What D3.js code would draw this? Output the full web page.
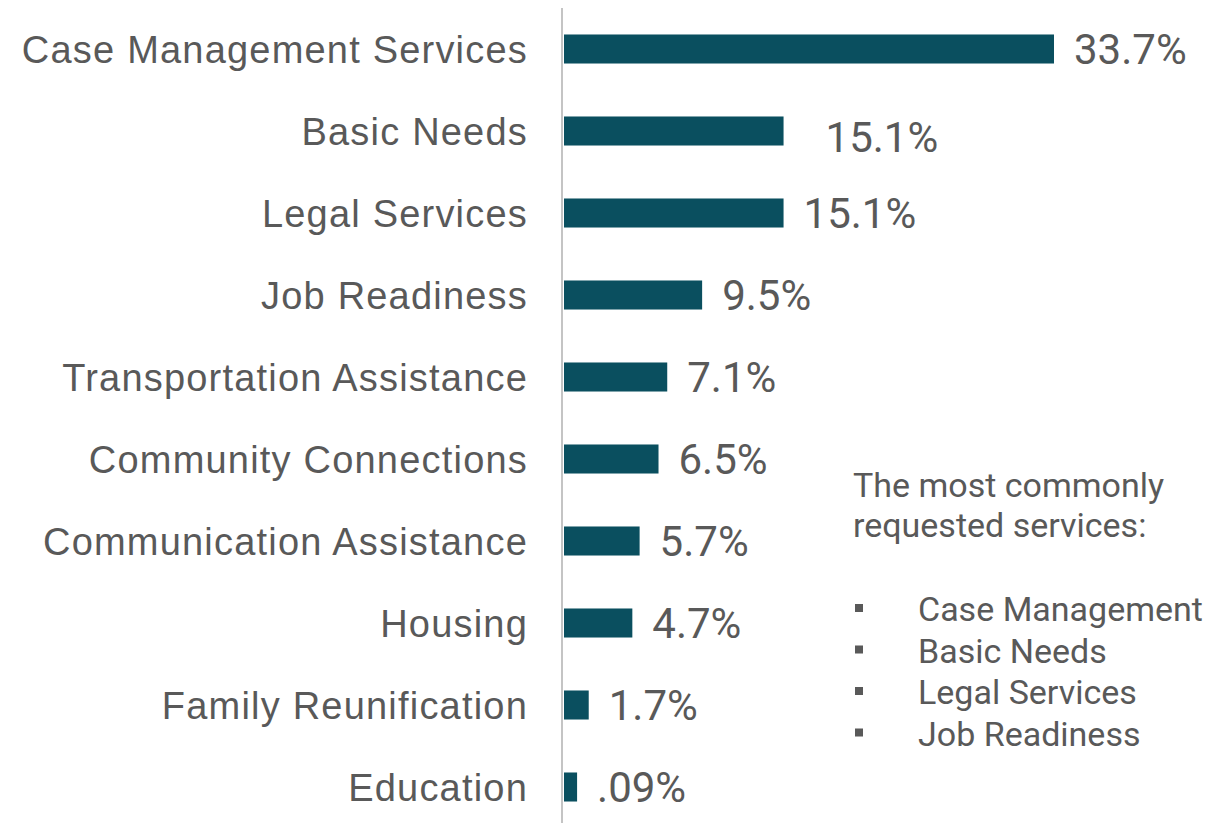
<!DOCTYPE html>
<html>
<head>
<meta charset="utf-8">
<script src="https://cdn.jsdelivr.net/npm/d3@7"></script>
<style>
  body { margin: 0; background: #fff; }
</style>
</head>
<body>
<div id="chart"></div>
<script>
const categories = ["Case Management Services", "Basic Needs", "Legal Services", "Job Readiness",
  "Transportation Assistance", "Community Connections", "Communication Assistance", "Housing",
  "Family Reunification", "Education"];
const values = [33.7, 15.1, 15.1, 9.5, 7.1, 6.5, 5.2, 4.7, 1.7, 0.9];
const valueLabels = ["33.7%", "15.1%", "15.1%", "9.5%", "7.1%", "6.5%", "5.7%", "4.7%", "1.7%", ".09%"];
const noteLines = ["The most commonly", "requested services:"];
const noteItems = ["Case Management", "Basic Needs", "Legal Services", "Job Readiness"];

const width = 1228, height = 823;
const axisX = 562;

const svg = d3.select("#chart").append("svg")
  .attr("width", width)
  .attr("height", height);

const x = d3.scaleLinear()
  .domain([0, 33.7])
  .range([axisX + 2, 1054]);

const y = d3.scaleBand()
  .domain(categories)
  .range([8, 828])
  .paddingInner(0.646)
  .paddingOuter(0.323);

// bars
svg.selectAll("rect.bar")
  .data(categories)
  .enter().append("rect")
  .attr("class", "bar")
  .attr("x", x(0))
  .attr("y", d => y(d))
  .attr("width", (d, i) => x(values[i]) - x(0))
  .attr("height", y.bandwidth())
  .attr("fill", "#0a4f5f");

// axis line
svg.append("line")
  .attr("x1", axisX).attr("x2", axisX)
  .attr("y1", 8).attr("y2", height)
  .attr("stroke", "#c4c4c4")
  .attr("stroke-width", 2);

// category labels
svg.selectAll("text.cat")
  .data(categories)
  .enter().append("text")
  .attr("class", "cat")
  .attr("x", 528)
  .attr("y", d => y(d) + y.bandwidth() / 2)
  .attr("dy", "0.36em")
  .attr("text-anchor", "end")
  .style("font-family", "'Liberation Sans', Arial, sans-serif")
  .style("font-size", "38px")
  .style("letter-spacing", "1.2px")
  .style("fill", "#595959")
  .text(d => d);

// value labels
svg.selectAll("text.val")
  .data(categories)
  .enter().append("text")
  .attr("class", "val")
  .attr("x", (d, i) => x(values[i]) + (i === 1 ? 42 : 20))
  .attr("y", (d, i) => y(d) + y.bandwidth() / 2 + (i === 1 ? 6 : 0))
  .attr("dy", "0.36em")
  .style("font-family", "Roboto, sans-serif")
  .style("font-size", "42px")
  .style("fill", "#595959")
  .text((d, i) => valueLabels[i]);

// side note
const note = svg.append("g")
  .style("font-family", "Roboto, sans-serif")
  .style("font-size", "34px")
  .style("fill", "#595959");

note.selectAll("text.line")
  .data(noteLines)
  .enter().append("text")
  .attr("x", 853)
  .attr("y", (d, i) => 497 + i * 40)
  .text(d => d);

note.selectAll("rect.bullet")
  .data(noteItems)
  .enter().append("rect")
  .attr("x", 855)
  .attr("y", (d, i) => 604 + i * 41.5)
  .attr("width", 8)
  .attr("height", 8)
  .attr("fill", "#595959");

note.selectAll("text.item")
  .data(noteItems)
  .enter().append("text")
  .attr("x", 918)
  .attr("y", (d, i) => 621 + i * 41.5)
  .text(d => d);
</script>
</body>
</html>
